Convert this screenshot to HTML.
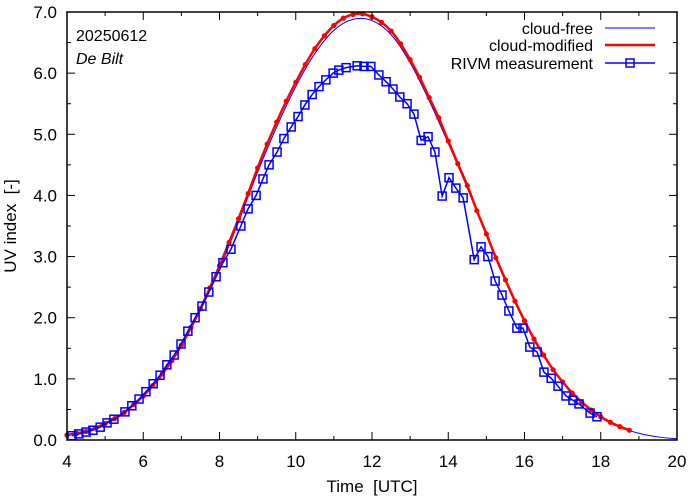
<!DOCTYPE html>
<html><head><meta charset="utf-8"><style>
html,body{margin:0;padding:0;background:#fff;}
svg{display:block;font-family:"Liberation Sans",sans-serif;}
</style></head><body>
<svg id="chart" width="694" height="501" viewBox="0 0 694 501" xmlns="http://www.w3.org/2000/svg">
<rect width="694" height="501" fill="#fff"/>
<g id="marks"></g>
<rect x="67" y="12" width="610" height="428" fill="none" stroke="#000" stroke-width="1.5"/>
<g id="axes"></g>
<text x="76" y="41" font-size="16">20250612</text>
<text x="76" y="64" font-size="16" font-style="italic">De Bilt</text>
<text x="372" y="492" font-size="17" text-anchor="middle">Time&#160;&#160;[UTC]</text>
<text transform="translate(16,226) rotate(-90)" font-size="17" text-anchor="middle">UV index&#160;&#160;[-]</text>
<g>
<g><text x="593" y="34" font-size="16" text-anchor="end">cloud-free</text><line x1="605" y1="28" x2="655" y2="28" stroke="#0000ff" stroke-width="1"/></g>
<g><text x="593" y="51" font-size="16" text-anchor="end">cloud-modified</text><line x1="605" y1="45" x2="655" y2="45" stroke="#ff0000" stroke-width="2.5"/></g>
<g><text x="593" y="69" font-size="16" text-anchor="end">RIVM measurement</text><line x1="605" y1="63" x2="655" y2="63" stroke="#0000ff" stroke-width="1.5"/><rect x="626" y="59" width="8" height="8" fill="none" stroke="#0000ff" stroke-width="1.5"/></g>
</g>
</svg>
<script>
const xTicks = [4,6,8,10,12,14,16,18,20];
const yTicks = [0,1,2,3,4,5,6,7];
const freeTimes = [4,4.5,5,5.5,6,6.5,7,7.5,8,8.5,9,9.5,10,10.5,11,11.5,12,12.5,13,13.5,14,14.5,15,15.5,16,16.5,17,17.5,18,18.5,19,19.5,20];
const freeValues = [.08,.14,.27,.45,.72,1.07,1.53,2.12,2.8,3.57,4.38,5.12,5.78,6.32,6.7,6.88,6.86,6.63,6.17,5.55,4.85,4.12,3.35,2.6,1.94,1.38,.94,.61,.37,.21,.11,.05,.02];
const modTimes = [4,4.25,4.5,4.75,5,5.25,5.5,5.75,6,6.25,6.5,6.75,7,7.25,7.5,7.75,8,8.25,8.5,8.75,9,9.25,9.5,9.75,10,10.25,10.5,10.75,11,11.25,11.5,11.75,12,12.25,12.5,12.75,13,13.25,13.5,13.75,14,14.25,14.5,14.75,15,15.25,15.5,15.75,16,16.25,16.5,16.75,17,17.25,17.5,17.75,18,18.25,18.5,18.75];
const modValues = [.08,.11,.14,.2,.27,.35,.45,.58,.72,.89,1.08,1.3,1.55,1.84,2.15,2.49,2.85,3.23,3.62,4.03,4.45,4.84,5.2,5.54,5.85,6.14,6.4,6.61,6.78,6.9,6.96,6.97,6.92,6.83,6.69,6.48,6.22,5.93,5.6,5.27,4.89,4.52,4.16,3.75,3.37,2.98,2.62,2.27,1.95,1.65,1.39,1.15,.95,.77,.62,.49,.38,.29,.22,.16];
const measTimes = [4.13,4.31,4.50,4.68,4.87,5.05,5.23,5.52,5.70,5.89,6.07,6.26,6.44,6.62,6.81,6.99,7.17,7.36,7.54,7.72,7.91,8.09,8.30,8.56,8.75,8.96,9.14,9.30,9.51,9.69,9.88,10.06,10.24,10.43,10.61,10.79,10.98,11.13,11.32,11.61,11.79,11.97,12.18,12.37,12.55,12.73,12.92,13.10,13.29,13.47,13.65,13.84,14.02,14.20,14.39,14.68,14.86,15.04,15.23,15.41,15.59,15.80,15.96,16.14,16.33,16.51,16.70,16.88,17.09,17.27,17.43,17.72,17.90];
const measValues = [.07,.10,.13,.16,.21,.28,.34,.46,.56,.67,.79,.92,1.06,1.23,1.39,1.57,1.78,2.0,2.19,2.42,2.67,2.9,3.12,3.5,3.78,4.0,4.27,4.5,4.71,4.93,5.12,5.29,5.48,5.65,5.78,5.89,6.0,6.05,6.09,6.12,6.11,6.11,5.97,5.86,5.74,5.61,5.5,5.33,4.9,4.96,4.71,3.99,4.29,4.12,3.96,2.95,3.16,3.0,2.6,2.37,2.11,1.83,1.83,1.52,1.44,1.11,1.01,.88,.72,.65,.59,.44,.38];

const NS = "http://www.w3.org/2000/svg";
const X0=67, X1=677, Y0=440, Y1=12;
function xs(t){return X0+(t-4)/16*(X1-X0);}
function ys(v){return Y0-v/7*(Y0-Y1);}
function mk(tag, attrs, parent){const e=document.createElementNS(NS,tag);for(const k in attrs)e.setAttribute(k,attrs[k]);parent.appendChild(e);return e;}
function smooth(pts){
  let d="M"+pts[0][0].toFixed(2)+","+pts[0][1].toFixed(2);
  for(let i=0;i<pts.length-1;i++){
    const p0=pts[i-1]||pts[i],p1=pts[i],p2=pts[i+1],p3=pts[i+2]||p2;
    const c1=[p1[0]+(p2[0]-p0[0])/6,p1[1]+(p2[1]-p0[1])/6];
    const c2=[p2[0]-(p3[0]-p1[0])/6,p2[1]-(p3[1]-p1[1])/6];
    d+="C"+c1[0].toFixed(2)+","+c1[1].toFixed(2)+" "+c2[0].toFixed(2)+","+c2[1].toFixed(2)+" "+p2[0].toFixed(2)+","+p2[1].toFixed(2);
  }
  return d;
}
const marks=document.getElementById("marks");
const axes=document.getElementById("axes");

for(let t=4;t<=20;t+=1){
  const x=xs(t), major=(t%2===0), L=major?8:4;
  const a=mk("line",{x1:x,y1:Y0,x2:x,y2:Y0-L,stroke:"#000","stroke-width":1},axes);
  
  
  const b=mk("line",{x1:x,y1:Y1,x2:x,y2:Y1+L,stroke:"#000","stroke-width":1},axes);
  
  
}
xTicks.forEach(t=>{
  const e=mk("text",{x:xs(t),y:467,"font-size":17,"text-anchor":"middle"},axes);
  e.textContent=String(t);
  
  
});
for(let v=0;v<=7;v+=0.5){
  const y=ys(v), major=(v%1===0), L=major?8:4;
  const a=mk("line",{x1:X0,y1:y,x2:X0+L,y2:y,stroke:"#000","stroke-width":1},axes);
  
  
  const b=mk("line",{x1:X1,y1:y,x2:X1-L,y2:y,stroke:"#000","stroke-width":1},axes);
  
  
}
yTicks.forEach(v=>{
  const e=mk("text",{x:57,y:ys(v)+6,"font-size":17,"text-anchor":"end"},axes);
  e.textContent=v.toFixed(1);
  
  
});

const fp=freeTimes.map((t,i)=>[xs(t),ys(freeValues[i])]);
const fl=mk("path",{d:smooth(fp),fill:"none",stroke:"#0000ff","stroke-width":1},marks);



const mp=modTimes.map((t,i)=>[xs(t),ys(modValues[i])]);
const ml=mk("path",{d:smooth(mp),fill:"none",stroke:"#ff0000","stroke-width":2.5},marks);


mp.forEach(p=>{
  const c=mk("circle",{cx:p[0],cy:p[1],r:2.6,fill:"#ff0000"},marks);
  
  
});

const pp=measTimes.map((t,i)=>[xs(t),ys(measValues[i])]);
const pl=mk("polyline",{points:pp.map(p=>p[0].toFixed(2)+","+p[1].toFixed(2)).join(" "),fill:"none",stroke:"#0000ff","stroke-width":1.5},marks);


pp.forEach(p=>{
  const r=mk("rect",{x:p[0]-4,y:p[1]-4,width:8,height:8,fill:"none",stroke:"#0000ff","stroke-width":1.5},marks);
  
  
});
</script>
</body></html>
